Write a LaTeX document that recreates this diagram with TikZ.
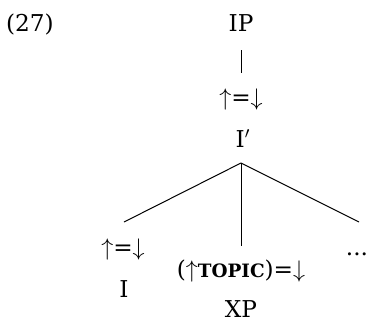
\documentclass[tikz,border=0pt]{standalone}
\usepackage{fontspec}
\setmainfont{DejaVu Serif}
\newcommand{\up}{$\uparrow$}
\newcommand{\dn}{$\downarrow$}
\newcommand{\fsc}[1]{\textbf{\fontsize{9.2}{10}\selectfont #1}}
\begin{document}
\begin{tikzpicture}[x=0.5pt,y=-0.5pt,
  lbl/.style={inner sep=0pt,anchor=base,font=\fontsize{11.6}{13}\selectfont},
  edge/.style={line width=0.5pt}]
\useasboundingbox (0,0) rectangle (367,322);
\node[lbl] (ex) at (30,31) {(27)};
\node[lbl] (ip) at (241,31) {IP};
\coordinate (ipb) at (241,50);
\coordinate (anc) at (241,73);
\node[lbl] (ann1) at (241,105) {\up=\dn};
\node[lbl] (ibar) at (243,147) {I$'$};
\coordinate (apex) at (241,163);
\coordinate (lend) at (124,222);
\coordinate (mend) at (241,246);
\coordinate (rend) at (359,222);
\node[lbl] (ann2) at (123,255) {\up=\dn};
\node[lbl] (i) at (124,297) {I};
\node[lbl] (ann3) at (241,277) {(\up\fsc{TOPIC})=\dn};
\node[lbl] (xp) at (241,317) {XP};
\node[lbl] (dots) at (357,255) {...};
\draw[edge] (ipb) -- (anc);
\draw[edge] (apex) -- (lend);
\draw[edge] (apex) -- (mend);
\draw[edge] (apex) -- (rend);
\end{tikzpicture}
\end{document}
